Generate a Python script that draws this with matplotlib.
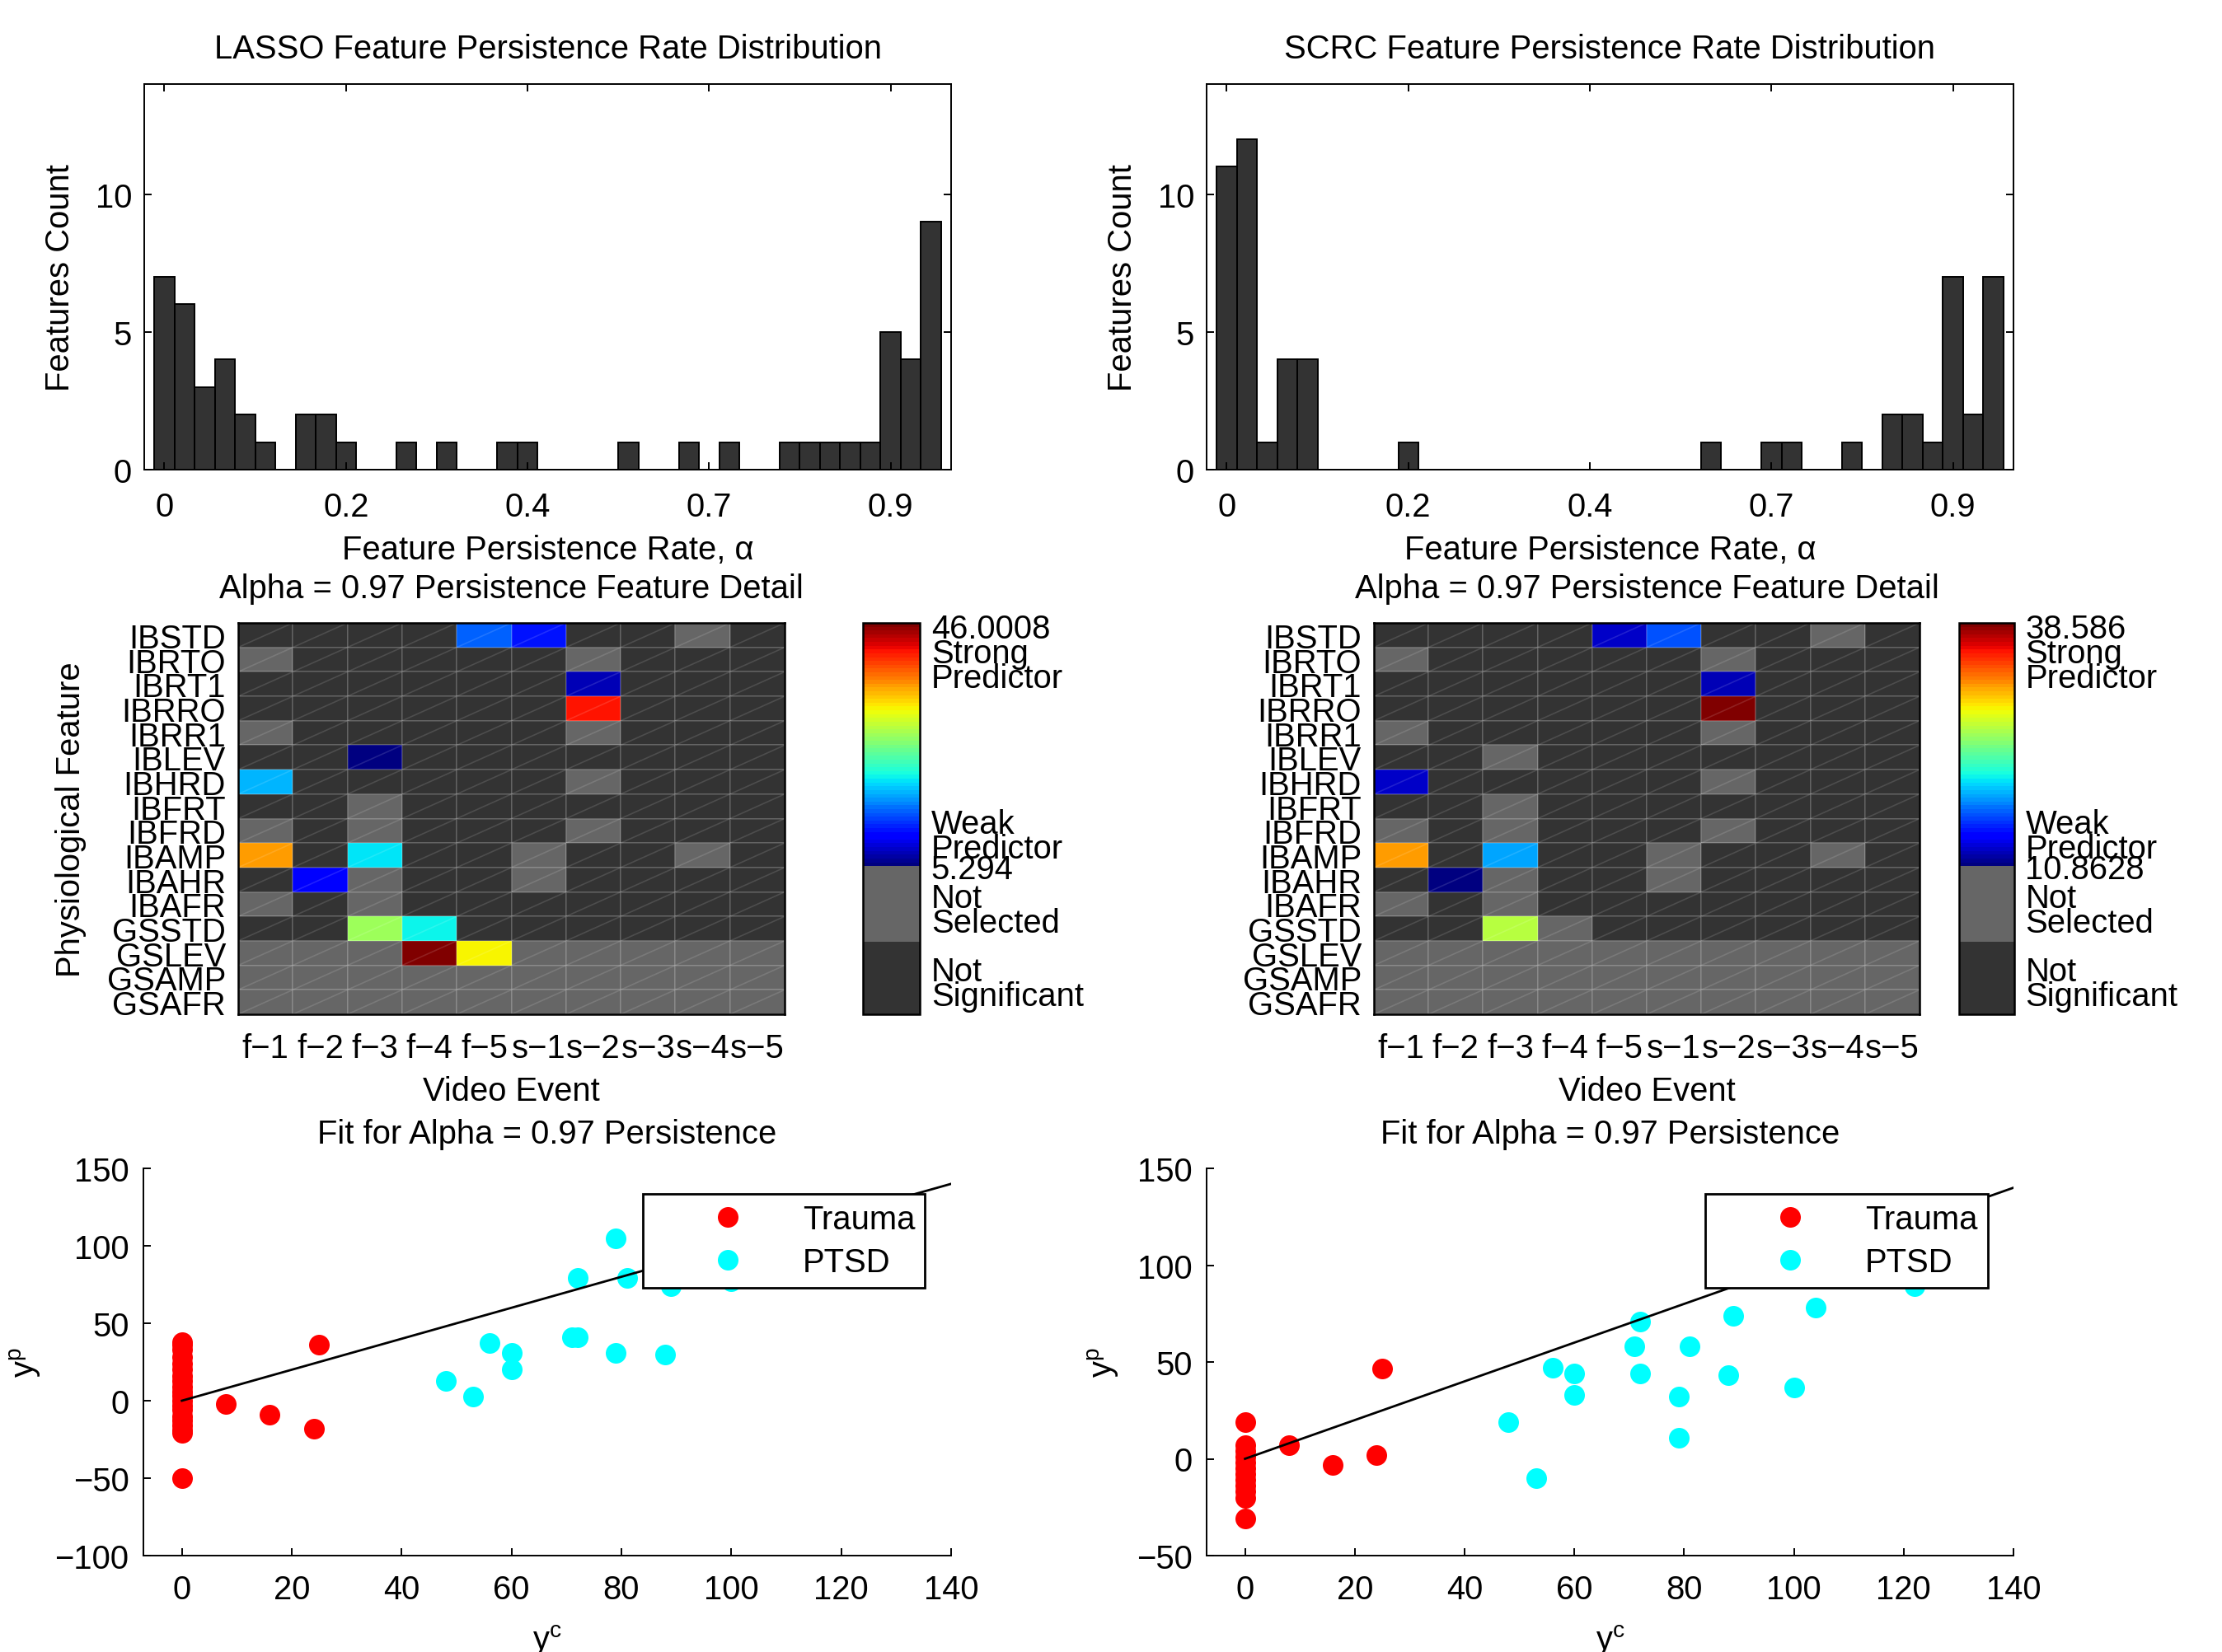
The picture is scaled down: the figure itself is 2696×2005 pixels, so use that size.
import numpy as np
import matplotlib
matplotlib.use('Agg')
import matplotlib.pyplot as plt
from matplotlib.colors import ListedColormap, Normalize
from matplotlib.collections import LineCollection
from matplotlib.cm import ScalarMappable

plt.rcParams['font.family'] = ['Liberation Sans', 'DejaVu Sans']
plt.rcParams['font.size'] = 14.4
plt.rcParams['mathtext.fontset'] = 'custom'
plt.rcParams['mathtext.rm'] = 'Liberation Sans'
plt.rcParams['axes.linewidth'] = 0.7

# ---------------- data ----------------
bin_index = np.arange(1, 40)
hist_tick_pos = [1, 10, 19, 28, 37]
hist_tick_labels = ['0', '0.2', '0.4', '0.7', '0.9']
lasso_counts = [7, 6, 3, 4, 2, 1, 0, 2, 2, 1, 0, 0, 1, 0, 1, 0, 0, 1, 1, 0,
                0, 0, 0, 1, 0, 0, 1, 0, 1, 0, 0, 1, 1, 1, 1, 1, 5, 4, 9]
scrc_counts = [11, 12, 1, 4, 4, 0, 0, 0, 0, 1, 0, 0, 0, 0, 0, 0, 0, 0, 0, 0,
               0, 0, 0, 0, 1, 0, 0, 1, 1, 0, 0, 1, 0, 2, 2, 1, 7, 2, 7]

features = ['IBSTD', 'IBRTO', 'IBRT1', 'IBRRO', 'IBRR1', 'IBLEV', 'IBHRD', 'IBFRT',
            'IBFRD', 'IBAMP', 'IBAHR', 'IBAFR', 'GSSTD', 'GSLEV', 'GSAMP', 'GSAFR']
events = ['f\u22121', 'f\u22122', 'f\u22123', 'f\u22124', 'f\u22125',
          's\u22121', 's\u22122', 's\u22123', 's\u22124', 's\u22125']

# D = not significant, G = not selected, C = selected predictor
lasso_status = ['DDDDCCDDGD', 'GDDDDDGDDD', 'DDDDDDCDDD', 'DDDDDDCDDD',
                'GDDDDDGDDD', 'DDCDDDDDDD', 'CDDDDDGDDD', 'DDGDDDDDDD',
                'GDGDDDGDDD', 'CDCDDGDDGD', 'DCGDDGDDDD', 'GDGDDDDDDD',
                'DDCCDDDDDD', 'GGGCCGGGGG', 'GGGGGGGGGG', 'GGGGGGGGGG']
lasso_predictor = [14.2, 11.6, 7.5, 41.0, 5.294, 17.7, 35.2, 19.3, 10.1,
                   27.3, 20.4, 46.0008, 31.4]
lasso_range = [5.294, 46.0008]

scrc_status = ['DDDDCCDDGD', 'GDDDDDGDDD', 'DDDDDDCDDD', 'DDDDDDCDDD',
               'GDDDDDGDDD', 'DDGDDDDDDD', 'CDDDDDGDDD', 'DDGDDDDDDD',
               'GDGDDDGDDD', 'CDCDDGDDGD', 'DCGDDGDDDD', 'GDGDDDDDDD',
               'DDCGDDDDDD', 'GGGGGGGGGG', 'GGGGGGGGGG', 'GGGGGGGGGG']
scrc_predictor = [12.8, 16.9, 12.4, 38.586, 12.7, 31.6, 18.9, 10.8628, 26.6]
scrc_range = [10.8628, 38.586]

lasso_trauma_x = [0] * 20 + [8, 16, 24, 25]
lasso_trauma_y = [38, 36, 33, 28, 24, 20, 16, 13, 9, 6, 3, 0, -3, -6, -10,
                  -13, -16, -19, -21, -50, -2, -9, -18, 36]
lasso_ptsd_x = [48, 53, 56, 60, 60, 71, 72, 72, 79, 79, 81, 88, 89, 100]
lasso_ptsd_y = [12.7, 2.7, 37.4, 30.8, 20.3, 41, 41, 79, 105, 31, 79, 30, 74, 77]
lasso_fit_slope = 1.0

scrc_trauma_x = [0] * 12 + [8, 16, 24, 25]
scrc_trauma_y = [19, 7, 4, 1, -2, -5, -8, -11, -14, -17, -20, -31, 7, -3, 2, 46.5]
scrc_ptsd_x = [48, 53, 56, 60, 60, 71, 72, 72, 79, 79, 81, 88, 89, 100, 104, 122]
scrc_ptsd_y = [19, -10, 47, 44, 33, 58, 71, 44, 32, 11, 58, 43, 74, 37, 78, 89]
scrc_fit_slope = 1.0
fit_x = [0, 140]

# ---------------- colormap (dark | gray | jet) ----------------
N_DARK, N_GRAY, N_JET = 19, 20, 64
jet_cols = plt.get_cmap('jet')(np.linspace(0, 1, N_JET))
cols = [(0.2, 0.2, 0.2, 1)] * N_DARK + [(0.4, 0.4, 0.4, 1)] * N_GRAY + list(jet_cols)
NTOT = len(cols)
combo_cmap = ListedColormap(cols)


def code_matrix(status, preds, rng):
    m = np.zeros((len(status), len(status[0])))
    it = iter(preds)
    for i, row in enumerate(status):
        for j, ch in enumerate(row):
            if ch == 'D':
                m[i, j] = (N_DARK / 2) / NTOT
            elif ch == 'G':
                m[i, j] = (N_DARK + N_GRAY / 2) / NTOT
            else:
                v = next(it)
                t = (v - rng[0]) / (rng[1] - rng[0])
                idx = min(N_JET - 1, int(np.floor(t * N_JET)))
                m[i, j] = (N_DARK + N_GRAY + idx + 0.5) / NTOT
    return m


W, H = 2696, 2006
fig = plt.figure(figsize=(W / 200, H / 200), dpi=200)


def fpos(x0, x1, y0, y1):
    return [x0 / W, 1 - y1 / H, (x1 - x0) / W, (y1 - y0) / H]


TICKLEN = 3.3


def hist_panel(pos, counts, title):
    ax = fig.add_axes(pos)
    ax.bar(bin_index, counts, width=1.0, color='#333333', edgecolor='black', linewidth=0.7)
    ax.set_xlim(0, 40)
    ax.set_ylim(0, 14)
    ax.set_xticks(hist_tick_pos)
    ax.set_xticklabels(hist_tick_labels)
    ax.set_yticks([0, 5, 10])
    ax.tick_params(direction='in', top=True, right=True, length=TICKLEN, width=0.7)
    ax.tick_params(axis='x', pad=9.2)
    ax.tick_params(axis='y', pad=5.4)
    ax.text(0.5, 1.091, title, transform=ax.transAxes, ha='center', va='center')
    ax.set_xlabel('Feature Persistence Rate, \u03b1', va='center')
    ax.xaxis.set_label_coords(0.5, -0.208)
    ax.set_ylabel('Features Count', va='center')
    ax.yaxis.set_label_coords(-0.1045, 0.5)
    return ax


def heat_panel(pos, cpos, status, preds, rng, show_ylabel):
    ax = fig.add_axes(pos)
    m = code_matrix(status, preds, rng)
    nr, nc = m.shape
    ax.pcolormesh(np.arange(nc + 1), np.arange(nr + 1), m, cmap=combo_cmap,
                  norm=Normalize(0, 1), edgecolors=(1, 1, 1, 0.13), linewidth=0.7)
    segs = [[(j, i + 1), (j + 1, i)] for i in range(nr) for j in range(nc)]
    ax.add_collection(LineCollection(segs, colors=[(1, 1, 1, 0.13)], linewidths=0.6))
    ax.set_xlim(0, nc)
    ax.set_ylim(nr, 0)
    ax.set_xticks(np.arange(nc) + 0.5)
    ax.set_xticklabels(events)
    ax.set_yticks(np.arange(nr) + 0.5)
    ax.set_yticklabels(features)
    ax.tick_params(length=0)
    ax.tick_params(axis='x', pad=8)
    ax.tick_params(axis='y', pad=5.4)
    ax.text(0.5, 1.088, 'Alpha = 0.97 Persistence Feature Detail', transform=ax.transAxes,
            ha='center', va='center')
    ax.set_xlabel('Video Event', va='center')
    ax.xaxis.set_label_coords(0.5, -0.196)
    if show_ylabel:
        ax.set_ylabel('Physiological Feature', va='center')
        ax.yaxis.set_label_coords(-0.306, 0.5)
    for s in ax.spines.values():
        s.set_linewidth(0.9)
    # colorbar
    cax = fig.add_axes(cpos)
    cb = fig.colorbar(ScalarMappable(norm=Normalize(0, 1), cmap=combo_cmap), cax=cax, ticks=[])
    cb.outline.set_linewidth(0.9)
    top_lbl = ('%g' % rng[1])
    bot_lbl = ('%g' % rng[0])
    lines = [(top_lbl, 0.986), ('Strong', 0.922), ('Predictor', 0.858),
             ('Weak', 0.486), ('Predictor', 0.423), (bot_lbl, 0.371),
             ('Not', 0.297), ('Selected', 0.234), ('Not', 0.109), ('Significant', 0.046)]
    for txt, yy in lines:
        cax.text(1.2, yy, txt, transform=cax.transAxes, ha='left', va='center')
    return ax


def scatter_panel(pos, tx, ty, px, py, slope, ylim, yticks, ylab_x):
    ax = fig.add_axes(pos)
    ax.plot(tx, ty, 'o', color='red', ms=9, mec='red', mew=0, label='Trauma', zorder=2)
    ax.plot(px, py, 'o', color='cyan', ms=9, mec='cyan', mew=0, label='PTSD', zorder=2)
    ax.plot(fit_x, [slope * v for v in fit_x], color='black', lw=1.0, zorder=3)
    ax.set_xlim(-7, 140)
    ax.set_ylim(*ylim)
    ax.set_xticks(np.arange(0, 141, 20))
    ax.set_yticks(yticks)
    ax.spines['top'].set_visible(False)
    ax.spines['right'].set_visible(False)
    ax.tick_params(direction='in', length=TICKLEN, width=0.7)
    ax.tick_params(axis='x', pad=8)
    ax.tick_params(axis='y', pad=6.3)
    ax.text(0.5, 1.089, 'Fit for Alpha = 0.97 Persistence', transform=ax.transAxes,
            ha='center', va='center')
    ax.set_xlabel(r'$\mathregular{y^c}$', va='baseline')
    ax.xaxis.set_label_coords(0.5, -0.2426)
    ax.set_ylabel(r'$\mathregular{y^p}$', va='center')
    ax.yaxis.set_label_coords(ylab_x, 0.5)
    leg = ax.legend(loc='upper left', bbox_to_anchor=(0.618, 0.933), borderaxespad=0,
                    borderpad=0.3, labelspacing=0.33, handlelength=4.55,
                    handletextpad=0.0, fancybox=False, framealpha=1,
                    edgecolor='black')
    leg.get_frame().set_linewidth(1.0)
    leg.set_zorder(5)
    return ax


hist_panel(fpos(175, 1154, 103, 571), lasso_counts,
           'LASSO Feature Persistence Rate Distribution')
hist_panel(fpos(1464, 2443, 103, 571), scrc_counts,
           'SCRC Feature Persistence Rate Distribution')

heat_panel(fpos(289, 952, 757, 1232), fpos(1047, 1116, 757, 1232),
           lasso_status, lasso_predictor, lasso_range, True)
heat_panel(fpos(1667, 2329, 757, 1232), fpos(2377, 2444, 757, 1232),
           scrc_status, scrc_predictor, scrc_range, False)

scatter_panel(fpos(174, 1154, 1419, 1889), lasso_trauma_x, lasso_trauma_y,
              lasso_ptsd_x, lasso_ptsd_y, lasso_fit_slope, (-100, 150),
              [-100, -50, 0, 50, 100, 150], -0.146)
scatter_panel(fpos(1464, 2443, 1419, 1889), scrc_trauma_x, scrc_trauma_y,
              scrc_ptsd_x, scrc_ptsd_y, scrc_fit_slope, (-50, 150),
              [-50, 0, 50, 100, 150], -0.128)

fig.savefig('out.png', dpi=200)
